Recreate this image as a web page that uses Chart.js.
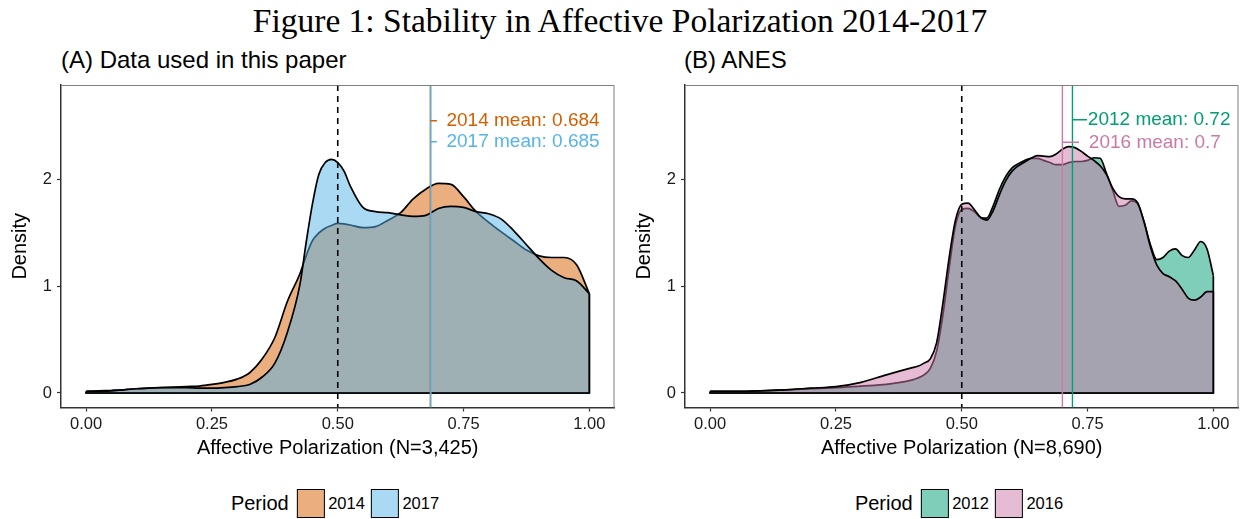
<!DOCTYPE html>
<html>
<head>
<meta charset="utf-8">
<script src="https://cdn.jsdelivr.net/npm/chart.js"></script>
<style>
  body { margin: 0; background: #fff; }
  #fig { position: relative; width: 1240px; height: 519px; overflow: hidden; background: #fff; }
  .title { position: absolute; left: 0; top: 3.6px; width: 1240px; text-align: center;
           font: 33.5px 'Liberation Serif', 'Times New Roman', serif; line-height: 33.5px; color: #000; }
  .ptitle { position: absolute; top: 48px; font: 24px 'Liberation Sans', Arial, sans-serif;
            line-height: 24px; color: #000; white-space: nowrap; }
  canvas { position: absolute; top: 0; }
  .legend { position: absolute; top: 489px; height: 29px; display: flex; align-items: center;
            transform: translateX(-50%); font-family: 'Liberation Sans', Arial, sans-serif; color: #000; white-space: nowrap; }
  .legend .lt { font-size: 20px; margin-right: 8px; }
  .legend .box { width: 28px; height: 29px; box-sizing: border-box; border: 1.5px solid #000; }
  .legend .lab { font-size: 16.5px; margin-left: 3.5px; margin-right: 6px; }
</style>
</head>
<body>
<div id="fig">
  <div class="title">Figure 1: Stability in Affective Polarization 2014-2017</div>
  <div class="ptitle" style="left:61px">(A) Data used in this paper</div>
  <div class="ptitle" style="left:684px">(B) ANES</div>
  <canvas id="chartA" width="620" height="460" style="left:0"></canvas>
  <canvas id="chartB" width="616" height="460" style="left:624px"></canvas>
  <div class="legend" id="legendA" style="left:338px"></div>
  <div class="legend" id="legendB" style="left:962px"></div>
</div>
<script>
// panel A: data used in this paper
const periodsA = ['2014', '2017'];
const xA = [0, 0.025, 0.05, 0.075, 0.1, 0.125, 0.15, 0.175, 0.2, 0.225,
            0.25, 0.275, 0.3, 0.325, 0.35, 0.375, 0.4, 0.425, 0.4375, 0.45, 0.4625, 0.475,
            0.4875, 0.5, 0.5125, 0.525, 0.55, 0.575, 0.6, 0.625, 0.65, 0.675, 0.7, 0.725,
            0.75, 0.775, 0.8, 0.825, 0.85, 0.875, 0.9, 0.925, 0.95, 0.975, 1];
const densA2014 = [0.015, 0.02, 0.025, 0.03, 0.04, 0.045, 0.05, 0.055, 0.06, 0.065,
                   0.08, 0.10, 0.13, 0.19, 0.32, 0.52, 0.86, 1.12, 1.29, 1.43, 1.50, 1.545,
                   1.57, 1.59, 1.585, 1.575, 1.55, 1.56, 1.62, 1.69, 1.82, 1.91, 1.965, 1.955,
                   1.84, 1.70, 1.60, 1.51, 1.425, 1.34, 1.285, 1.27, 1.27, 1.20, 0.93];
const densA2017 = [0.015, 0.015, 0.02, 0.03, 0.04, 0.045, 0.05, 0.05, 0.05, 0.045,
                   0.045, 0.05, 0.06, 0.08, 0.15, 0.28, 0.57, 1.02, 1.42, 1.78, 2.05, 2.16,
                   2.19, 2.16, 2.08, 1.94, 1.74, 1.70, 1.69, 1.67, 1.655, 1.665, 1.73, 1.75,
                   1.74, 1.70, 1.68, 1.63, 1.52, 1.39, 1.26, 1.15, 1.08, 1.05, 0.93];
const meansA = [0.684, 0.685];

// panel B: ANES
const periodsB = ['2012', '2016'];
const xB = [0, 0.05, 0.1, 0.15, 0.2, 0.25, 0.3, 0.35, 0.4,
            0.4125, 0.425, 0.4375, 0.45, 0.4625, 0.475, 0.4875, 0.5,
            0.5125, 0.525, 0.5375, 0.55, 0.5625, 0.575, 0.5875, 0.6,
            0.6125, 0.625, 0.6375, 0.65, 0.6625, 0.675, 0.6875, 0.7,
            0.7125, 0.725, 0.7375, 0.75, 0.7625, 0.775, 0.7875, 0.8,
            0.8125, 0.825, 0.8375, 0.85, 0.8625, 0.875, 0.8875, 0.9,
            0.9125, 0.925, 0.9375, 0.95, 0.9625, 0.975, 0.9875, 1];
const densB2012 = [0.015, 0.015, 0.02, 0.03, 0.04, 0.05, 0.065, 0.08, 0.12,
                   0.14, 0.17, 0.23, 0.39, 0.73, 1.17, 1.57, 1.72,
                   1.73, 1.70, 1.645, 1.64, 1.755, 1.91, 2.03, 2.11,
                   2.15, 2.18, 2.20, 2.20, 2.18, 2.16, 2.14, 2.14,
                   2.16, 2.17, 2.17, 2.18, 2.205, 2.20, 2.06, 1.90,
                   1.75, 1.76, 1.80, 1.77, 1.60, 1.39, 1.25, 1.27,
                   1.33, 1.35, 1.29, 1.27, 1.34, 1.42, 1.35, 1.10];
const densB2016 = [0.015, 0.015, 0.02, 0.03, 0.045, 0.06, 0.10, 0.17, 0.235,
                   0.25, 0.28, 0.32, 0.47, 0.84, 1.27, 1.62, 1.77,
                   1.78, 1.72, 1.645, 1.62, 1.71, 1.86, 1.99, 2.08,
                   2.13, 2.165, 2.20, 2.225, 2.22, 2.215, 2.24, 2.285,
                   2.31, 2.30, 2.265, 2.22, 2.18, 2.13, 2.05, 1.92,
                   1.84, 1.82, 1.82, 1.78, 1.60, 1.37, 1.20, 1.12,
                   1.09, 1.05, 0.975, 0.89, 0.87, 0.90, 0.95, 0.95];
const meansB = [0.72, 0.7];

const xTicks = [0, 0.25, 0.5, 0.75, 1];
const yTicks = [0, 1, 2];
const cutoff = 0.5;

const coloursA = ['213,94,0', '86,180,233'];
const coloursB = ['0,158,115', '204,121,167'];

// where the ggrepel-style labels sit (data units)
const labelSpotsA = [{ y: 2.552, segEnd: 0.697, textX: 0.716 }, { y: 2.355, segEnd: 0.697, textX: 0.716 }];
const labelSpotsB = [{ y: 2.561, segEnd: 0.749, textX: 0.7506 }, { y: 2.35, segEnd: 0.733, textX: 0.7526 }];

const FONT = "'Liberation Sans', Arial, sans-serif";
Chart.defaults.font.family = FONT;
Chart.defaults.color = '#000';

const refLines = {
  id: 'refLines',
  afterDatasetsDraw(chart, args, opts) {
    const { ctx, chartArea: a, scales: { x, y } } = chart;
    ctx.save();
    ctx.beginPath();
    ctx.rect(a.left, a.top, a.right - a.left, a.bottom - a.top);
    ctx.clip();
    const dx = x.getPixelForValue(opts.cutoff);
    ctx.strokeStyle = '#000';
    ctx.lineWidth = 1.6;
    ctx.setLineDash([6, 5]);
    ctx.beginPath();
    ctx.moveTo(dx, a.top);
    ctx.lineTo(dx, a.bottom);
    ctx.stroke();
    ctx.setLineDash([]);
    opts.means.forEach((m, i) => {
      const mx = x.getPixelForValue(m);
      ctx.strokeStyle = 'rgb(' + opts.colours[i] + ')';
      ctx.lineWidth = 1.4;
      ctx.beginPath();
      ctx.moveTo(mx, a.top);
      ctx.lineTo(mx, a.bottom);
      ctx.stroke();
    });
    opts.means.forEach((m, i) => {
      const spot = opts.spots[i];
      const mx = x.getPixelForValue(m);
      const ly = y.getPixelForValue(spot.y);
      ctx.strokeStyle = 'rgb(' + opts.colours[i] + ')';
      ctx.lineWidth = 1.4;
      ctx.beginPath();
      ctx.moveTo(mx, ly);
      ctx.lineTo(x.getPixelForValue(spot.segEnd), ly);
      ctx.stroke();
      ctx.fillStyle = 'rgb(' + opts.colours[i] + ')';
      ctx.font = '19px ' + FONT;
      ctx.textAlign = 'left';
      ctx.textBaseline = 'middle';
      ctx.fillText(opts.periods[i] + ' mean: ' + m, x.getPixelForValue(spot.textX), ly);
    });
    ctx.restore();

    // grey panel border on top and right
    ctx.save();
    ctx.strokeStyle = '#7f7f7f';
    ctx.lineWidth = 1;
    ctx.beginPath();
    ctx.moveTo(a.left, a.top + 0.5);
    ctx.lineTo(a.right - 0.5, a.top + 0.5);
    ctx.lineTo(a.right - 0.5, a.bottom);
    ctx.stroke();
    ctx.restore();
  }
};

function densityChart(id, xs, series, periods, colours, means, spots, xTitle, padRight) {
  const datasets = [];
  series.forEach((ys, i) => {
    const order = (series.length - i) * 2;
    datasets.push({
      label: periods[i],
      data: xs.map((v, k) => ({ x: v, y: ys[k] })),
      borderColor: '#000',
      borderWidth: 1.7,
      backgroundColor: 'rgba(' + colours[i] + ',0.5)',
      fill: 'origin',
      cubicInterpolationMode: 'monotone',
      pointRadius: 0,
      order: order
    });
    // the closing edge of the density polygon
    const last = xs.length - 1;
    datasets.push({
      label: periods[i] + ' edge',
      data: [{ x: xs[0], y: ys[0] }, { x: xs[0], y: 0 }, { x: xs[last], y: 0 }, { x: xs[last], y: ys[last] }],
      borderColor: '#000',
      borderWidth: 1.7,
      fill: false,
      tension: 0,
      pointRadius: 0,
      order: order - 1
    });
  });

  return new Chart(document.getElementById(id), {
    type: 'line',
    data: { datasets },
    plugins: [refLines],
    options: {
      responsive: false,
      animation: false,
      devicePixelRatio: 1,
      layout: { padding: { top: 85, right: padRight, left: 0, bottom: 0 } },
      plugins: {
        legend: { display: false },
        tooltip: { enabled: false },
        refLines: { cutoff, means, colours, spots, periods }
      },
      scales: {
        x: {
          type: 'linear',
          min: -0.05,
          max: 1.05,
          afterFit: s => { s.height = 52.5; },
          afterBuildTicks: s => { s.ticks = xTicks.map(v => ({ value: v })); },
          ticks: { callback: v => v.toFixed(2), font: { size: 16.5 }, color: '#1a1a1a', padding: 3, maxRotation: 0 },
          grid: { drawOnChartArea: false, drawTicks: true, tickLength: 4, tickColor: '#333', tickWidth: 1.2 },
          border: { display: true, color: '#333', width: 1.5 },
          title: { display: true, text: xTitle, font: { size: 20 }, color: '#000', padding: { top: 0, bottom: 0 } }
        },
        y: {
          type: 'linear',
          min: -0.136,
          max: 2.887,
          afterFit: s => { s.width = 61; },
          afterBuildTicks: s => { s.ticks = yTicks.map(v => ({ value: v })); },
          ticks: { callback: v => String(v), font: { size: 16.5 }, color: '#1a1a1a', padding: 5 },
          grid: { drawOnChartArea: false, drawTicks: true, tickLength: 4, tickColor: '#333', tickWidth: 1.2 },
          border: { display: true, color: '#333', width: 1.5 },
          title: { display: true, text: 'Density', font: { size: 20 }, color: '#000', padding: { top: 8, bottom: 0 } }
        }
      }
    }
  });
}

function buildLegend(id, periods, colours) {
  const el = document.getElementById(id);
  let html = '<span class="lt">Period</span>';
  periods.forEach((p, i) => {
    html += '<span class="box" style="background:rgba(' + colours[i] + ',0.5)"></span>' +
            '<span class="lab">' + p + '</span>';
  });
  el.innerHTML = html;
}

densityChart('chartA', xA, [densA2014, densA2017], periodsA, coloursA, meansA, labelSpotsA,
             'Affective Polarization (N=3,425)', 5.5);
densityChart('chartB', xB, [densB2012, densB2016], periodsB, coloursB, meansB, labelSpotsB,
             'Affective Polarization (N=8,690)', 1.5);
buildLegend('legendA', periodsA, coloursA);
buildLegend('legendB', periodsB, coloursB);
</script>
</body>
</html>
